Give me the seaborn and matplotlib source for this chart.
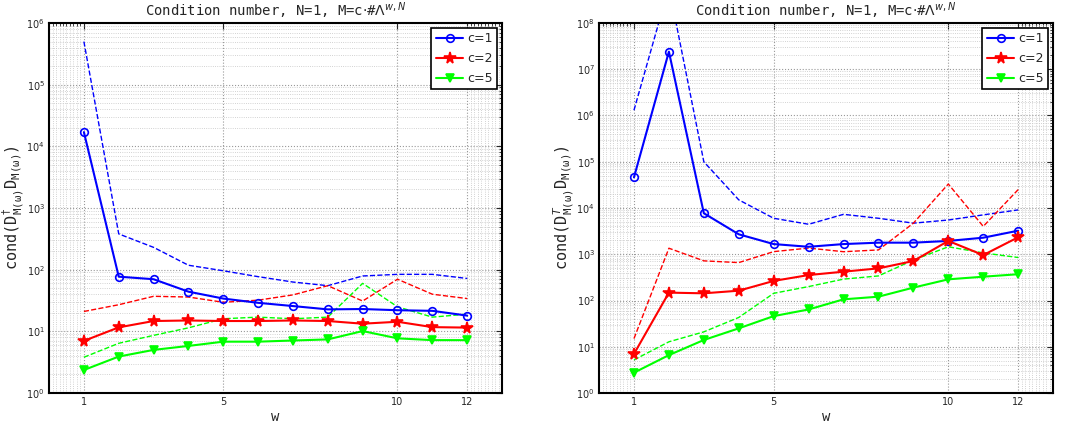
import numpy as np
import pandas as pd
import seaborn as sns
import matplotlib
matplotlib.use('Agg')
import matplotlib.pyplot as plt
from matplotlib.ticker import FixedLocator, LogLocator, NullFormatter

# Dados
v_w = [1, 2, 3, 4, 5, 6, 7, 8, 9, 10, 11, 12]

# Painel esquerdo (D^dagger D)
v_esq_c1 = [1.7e4, 77, 70, 44, 34, 29, 25.7, 22.7, 23, 22, 21.5, 18]
v_esq_c2 = [7, 11.6, 14.7, 15, 14.7, 14.7, 15, 14.7, 13.3, 14.3, 11.7, 11.5]
v_esq_c5 = [2.36, 3.9, 5.0, 5.8, 6.8, 6.8, 7.1, 7.4, 10.1, 7.7, 7.2, 7.2]
v_esq_c1_tr = [5e5, 380, 230, 118, 96, 77, 63, 55, 79, 84, 84, 72]
v_esq_c2_tr = [21, 27, 37, 36, 29.6, 32, 39, 55, 31, 70, 40, 34]
v_esq_c5_tr = [3.8, 6.4, 8.6, 11.4, 16, 17, 16, 17, 60, 25, 17, 19]

# Painel direito (D^T D)
v_dir_c1 = [4.6e4, 2.4e7, 7700, 2700, 1660, 1450, 1660, 1780, 1780, 1940, 2280, 3230]
v_dir_c2 = [7, 148, 143, 163, 265, 355, 420, 495, 715, 1940, 960, 2330]
v_dir_c5 = [2.75, 6.6, 14, 25, 46, 64, 106, 121, 190, 287, 327, 370]
v_dir_c1_tr = [1.3e6, 6e8, 1.0e5, 1.5e4, 6000, 4450, 7300, 6000, 4700, 5500, 7100, 9100]
v_dir_c2_tr = [15, 1350, 720, 660, 1140, 1360, 1135, 1240, 4700, 3.3e4, 4000, 2.5e4]
v_dir_c5_tr = [5.2, 12.8, 21, 43, 143, 200, 290, 340, 750, 1450, 1070, 850]

v_rotulos = ['c=1', 'c=2', 'c=5']
v_cores = ['#0000ff', '#ff0000', '#00ff00']
v_marcadores = ['o', '*', 'v']

sns.set_style('white')
plt.rcParams['mathtext.fontset'] = 'dejavusans'

fig = plt.figure(figsize=(10.78, 4.29), dpi=100)
ax1 = fig.add_axes([0.0455, 0.0839, 0.4202, 0.8625])
ax2 = fig.add_axes([0.5557, 0.0839, 0.4212, 0.8625])

v_titulo = r'Condition number, N=1, M=c$\cdot$#$\Lambda^{w,N}$'


def desenha(ax, solidas, tracejadas, ymax, ylabel):
    for v_y, v_cor in zip(tracejadas, v_cores):
        sns.lineplot(x=v_w, y=v_y, ax=ax, color=v_cor, linestyle='--', dashes=(5, 3),
                     linewidth=1.0)
    for v_y, v_cor, v_m, v_lab in zip(solidas, v_cores, v_marcadores, v_rotulos):
        v_ms = {'o': 5.5, '*': 8.5, 'v': 6}[v_m]
        sns.lineplot(x=v_w, y=v_y, ax=ax, color=v_cor, linewidth=1.5, marker=v_m,
                     markersize=v_ms, markeredgecolor=v_cor,
                     markerfacecolor='none' if v_m == 'o' else v_cor,
                     markeredgewidth=1.2, label=v_lab)
    ax.set_yscale('log')
    ax.set_xlim(0, 13)
    ax.set_ylim(1, 10 ** ymax)
    ax.xaxis.set_major_locator(FixedLocator([1, 5, 10, 12]))
    v_menores = [i / 10 for i in range(1, 10)] + [12 + i / 10 for i in range(1, 10)]
    ax.xaxis.set_minor_locator(FixedLocator(v_menores))
    ax.yaxis.set_major_locator(FixedLocator([10.0 ** k for k in range(ymax + 1)]))
    ax.yaxis.set_minor_locator(LogLocator(base=10, subs=np.arange(2, 10), numticks=20))
    ax.yaxis.set_minor_formatter(NullFormatter())
    ax.grid(True, which='major', linestyle=':', color='#999999', linewidth=0.8)
    ax.grid(True, which='minor', linestyle=':', color='#c4c4c4', linewidth=0.6)
    ax.tick_params(which='both', direction='in', top=True, right=True, labelsize=7, pad=3)
    ax.tick_params(which='major', length=4)
    ax.tick_params(which='minor', length=2)
    for v_lado in ax.spines.values():
        v_lado.set_color('black')
        v_lado.set_linewidth(1.5)
    ax.set_xlabel('w', family='DejaVu Sans Mono', fontsize=10, labelpad=2)
    ax.set_ylabel(ylabel, family='DejaVu Sans Mono', fontsize=11, labelpad=0)
    ax.set_title(v_titulo, family='DejaVu Sans Mono', fontsize=10, pad=5)
    v_leg = ax.legend(loc='upper right', fontsize=9, frameon=True, fancybox=False,
                      handlelength=2.2, handletextpad=0.3, borderpad=0.35,
                      labelspacing=0.55, borderaxespad=0.4)
    v_leg.get_frame().set_edgecolor('black')
    v_leg.get_frame().set_linewidth(1.2)
    v_leg.get_frame().set_alpha(1)


desenha(ax1, [v_esq_c1, v_esq_c2, v_esq_c5], [v_esq_c1_tr, v_esq_c2_tr, v_esq_c5_tr], 6,
        r'cond($\mathtt{D}^{\dagger}_{\mathtt{M(\omega)}}\mathtt{D}_{\mathtt{M(\omega)}}$)')
desenha(ax2, [v_dir_c1, v_dir_c2, v_dir_c5], [v_dir_c1_tr, v_dir_c2_tr, v_dir_c5_tr], 8,
        r'cond($\mathtt{D}^{T}_{\mathtt{M(\omega)}}\mathtt{D}_{\mathtt{M(\omega)}}$)')

fig.savefig('out.png', dpi=100)
